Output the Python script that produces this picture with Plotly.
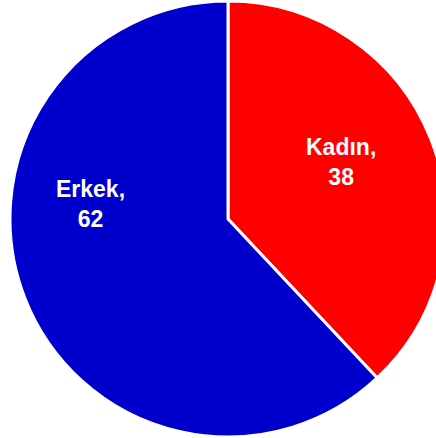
import plotly.graph_objects as go

labels = ["Kadın", "Erkek"]
values = [38, 62]
colors = ["#FF0000", "#0000CC"]
# label centres in pixels (style/layout only)
label_pos = [(341, 162), (90, 204)]

W, H = 446, 438

fig = go.Figure(go.Pie(
    labels=labels,
    values=values,
    sort=False,
    direction="clockwise",
    rotation=0,
    marker=dict(colors=colors, line=dict(color="white", width=3)),
    textinfo="none",
    domain=dict(x=[10 / W, 1], y=[0, 1]),
    showlegend=False,
    hoverinfo="none",
))

for lab, val, (px, py) in zip(labels, values, label_pos):
    fig.add_annotation(
        x=px / W, y=1 - py / H, xref="paper", yref="paper",
        text=f"<b>{lab},<br>{val}</b>", showarrow=False,
        xanchor="center", yanchor="middle", align="center",
        font=dict(family="Liberation Sans, Arial", size=23, color="white"),
    )

fig.update_layout(
    width=W, height=H, autosize=False,
    margin=dict(l=0, r=0, t=0, b=0),
    paper_bgcolor="white", plot_bgcolor="white",
)
fig.write_html(
    "out.html",
    config={"displayModeBar": False},
    post_script="document.body.style.margin='0';document.body.style.overflow='hidden';document.documentElement.style.overflow='hidden';",
)
